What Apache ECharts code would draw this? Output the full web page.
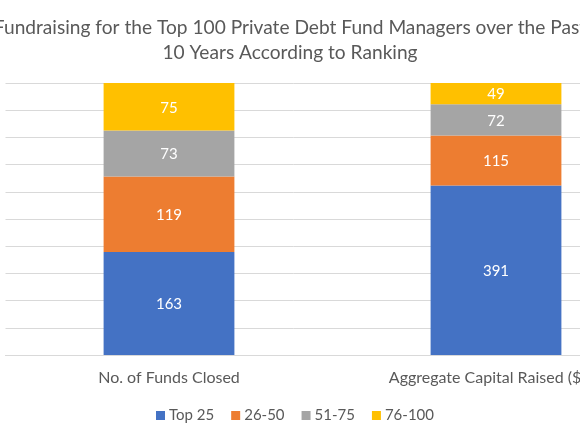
<!DOCTYPE html>
<html><head><meta charset="utf-8">
<script src="https://cdn.jsdelivr.net/npm/echarts@6/dist/echarts.min.js"></script>
<style>html,body{margin:0;padding:0;background:#fff;overflow:hidden}#c{width:580px;height:435px}</style>
</head><body><div id="c"></div>
<script>
var categories = ['No. of Funds Closed', 'Aggregate Capital Raised ($bn)'];
var seriesNames = ['Top 25', '26-50', '51-75', '76-100'];
var top25 = [163, 391];
var r26to50 = [119, 115];
var r51to75 = [73, 72];
var r76to100 = [75, 49];
var colors = ['#4472C4', '#ED7D31', '#A5A5A5', '#FFC000'];
var yTicks = [0, 10, 20, 30, 40, 50, 60, 70, 80, 90, 100];

var raw = [top25, r26to50, r51to75, r76to100];
var totals = categories.map(function (c, i) {
  return raw.reduce(function (s, arr) { return s + arr[i]; }, 0);
});
var font = 'Lato, "Open Sans", sans-serif';
var chart = echarts.init(document.getElementById('c'));
chart.setOption({
  animation: false,
  textStyle: { fontFamily: font },
  title: {
    text: 'Fundraising for the Top 100 Private Debt Fund Managers over the Past\n10 Years According to Ranking',
    left: 'center', top: 10,
    textStyle: { fontSize: 19.15, lineHeight: 25, fontWeight: 'normal', color: '#595959', fontFamily: font, align: 'center' }
  },
  legend: {
    left: 151, top: 403, itemWidth: 9, itemHeight: 9, itemGap: 17, icon: 'rect',
    textStyle: { fontSize: 15, color: '#595959', fontFamily: font, padding: [0, 0, 0, -1] },
    data: seriesNames
  },
  grid: { left: 5.5, width: 654, top: 83, bottom: 80, containLabel: false, outerBoundsMode: 'none' },
  xAxis: {
    type: 'category',
    data: categories,
    axisLine: { lineStyle: { color: '#D9D9D9', width: 1 } },
    axisTick: { show: false },
    axisLabel: { fontSize: 16, color: '#595959', margin: 15, fontFamily: font, interval: 0, hideOverlap: false }
  },
  yAxis: {
    type: 'value', min: yTicks[0], max: yTicks[yTicks.length - 1], interval: yTicks[1] - yTicks[0],
    axisLabel: { show: false }, axisLine: { show: false }, axisTick: { show: false },
    splitLine: { lineStyle: { color: '#D9D9D9', width: 1 } }
  },
  series: raw.map(function (arr, k) {
    return {
      name: seriesNames[k], type: 'bar', stack: 'all', barWidth: '40%',
      itemStyle: { color: colors[k] },
      label: {
        show: true, position: 'inside', color: '#fff', fontSize: 15, fontFamily: font, offset: [0, 1],
        formatter: function (p) { return arr[p.dataIndex]; }
      },
      data: arr.map(function (v, i) { return v / totals[i] * 100; })
    };
  })
});
</script></body></html>
